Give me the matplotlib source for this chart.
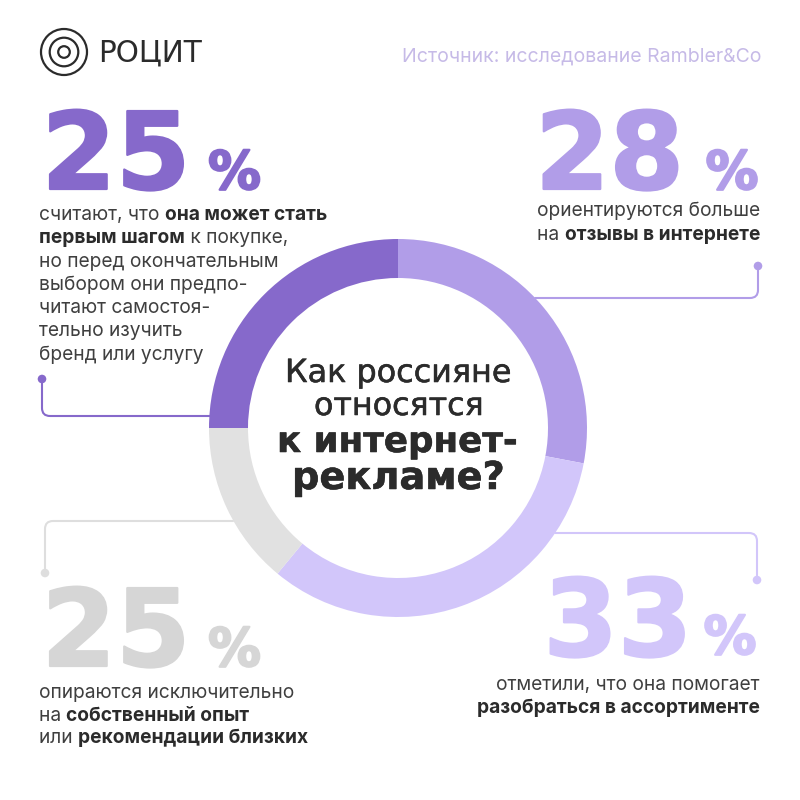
import matplotlib
matplotlib.use('Agg')
import matplotlib.pyplot as plt
import matplotlib.patheffects as pe
from matplotlib.path import Path
from matplotlib.patches import PathPatch, Circle

# --- data ---
slice_names = ['Отзывы', 'Ассортимент', 'Собственный опыт', 'Первый шаг']
slice_values = [28, 33, 14, 25]
slice_colors = ['#B19DE8', '#D2C6FA', '#E1E1E1', '#8669CB']

label_first = '25'
label_reviews = '28'
label_assort = '33'
label_own = '25'

DARK = '#8669CB'; MID = '#B19DE8'; LIGHT = '#D2C6FA'; GREY = '#D6D6D6'; LINEGREY = '#DEDEDE'
INK = '#2B2B2B'; BODY = '#3F3F3F'
FONT = 'Inter'

fig = plt.figure(figsize=(8, 8), dpi=100, facecolor='white')
ax = fig.add_axes([0, 0, 1, 1])
ax.pie(slice_values, colors=slice_colors, startangle=90, counterclock=False,
       center=(398, 800 - 428), radius=189, wedgeprops=dict(width=39, linewidth=0))
ax.set_xlim(0, 800); ax.set_ylim(0, 800); ax.set_aspect('equal'); ax.axis('off')
rend = fig.canvas.get_renderer()

def Y(py):
    return 800 - py

def width(t):
    return t.get_window_extent(rend).width

def runs(parts, x, base, ha='left', size=13.8):
    items = []
    for s, bold in parts:
        t = ax.text(0, Y(base), s, fontsize=size, family=FONT, va='baseline',
                    fontweight='bold' if bold else 'normal', color=INK if bold else BODY)
        items.append(t)
    total = sum(width(t) for t in items)
    cur = x if ha == 'left' else x - total
    for t in items:
        t.set_x(cur)
        cur += width(t)

def fit(s, x0, x1, base, weight='normal', color=INK, family=FONT, stroke=0):
    t = ax.text(x0, Y(base), s, fontsize=20, family=family, fontweight=weight, color=color, va='baseline')
    t.set_fontsize(20 * (x1 - x0) / width(t))
    if stroke:
        t.set_path_effects([pe.withStroke(linewidth=stroke, foreground=color)])
    return t

def connector(points, color, dot):
    verts, codes = [], []
    for v, c in points:
        verts.append((v[0], Y(v[1]))); codes.append(c)
    ax.add_patch(PathPatch(Path(verts, codes), fill=False, edgecolor=color, lw=1.5, capstyle='round'))
    ax.add_patch(Circle((dot[0], Y(dot[1])), 4.3, color=color, lw=0))

M, L, Q = Path.MOVETO, Path.LINETO, Path.CURVE3
connector([((42, 379), M), ((42, 408), L), ((42, 416), Q), ((50, 416), Q), ((210, 416), L)], DARK, (42, 379))
connector([((758, 266), M), ((758, 290), L), ((758, 298), Q), ((750, 298), Q), ((535, 298), L)], MID, (758, 266))
connector([((555, 533), M), ((749, 533), L), ((757, 533), Q), ((757, 541), Q), ((757, 580), L)], LIGHT, (757, 580))
connector([((233, 521), M), ((53, 521), L), ((45, 521), Q), ((45, 529), Q), ((45, 573), L)], LINEGREY, (45, 573))

# logo and source
for r in (23, 14.3, 5.8):
    ax.add_patch(Circle((64, Y(52)), r, fill=False, edgecolor=INK, lw=1.6))
fit('РОЦИТ', 98, 202, 62, color=INK, family='DejaVu Sans')
fit('Источник: исследование Rambler&Co', 402, 761, 62, color='#C6BAE7')

# big numbers
BIG = 'DejaVu Sans'
def big(s, cx, base, pcx, pbase, color):
    effect = [pe.withStroke(linewidth=1.6, foreground=color)]
    ax.text(cx, Y(base), s, fontsize=77, family=BIG, fontweight='bold', color=color,
            ha='center', va='baseline', path_effects=effect)
    ax.text(pcx, Y(pbase), '%', fontsize=38, family=BIG, fontweight='bold', color=color,
            ha='center', va='baseline', path_effects=effect)

big(label_first, 116, 189, 234.5, 189, DARK)
big(label_reviews, 609.5, 189, 732, 189, MID)
big(label_own, 116, 666, 234.5, 666, GREY)
big(label_assort, 618, 656, 730, 654, LIGHT)

# body
base0 = 220; step = 23.3
first_lines = [
    [('считают, что ', False), ('она может стать', True)],
    [('первым шагом', True), (' к покупке,', False)],
    [('но перед окончательным', False)],
    [('выбором они предпо-', False)],
    [('читают самостоя-', False)],
    [('тельно изучить', False)],
    [('бренд или услугу', False)],
]
for i, line in enumerate(first_lines):
    runs(line, 39, base0 + i * step)

runs([('ориентируются больше', False)], 760, 216, 'right')
runs([('на ', False), ('отзывы в интернете', True)], 760, 240, 'right')
runs([('опираются исключительно', False)], 39, 698)
runs([('на ', False), ('собственный опыт', True)], 39, 721)
runs([('или ', False), ('рекомендации близких', True)], 39, 743)
runs([('отметили, что она помогает', False)], 760, 690, 'right')
runs([('разобраться в ассортименте', True)], 760, 713, 'right')

# centre title
fit('Как россияне', 285, 511, 382, 'normal', INK, 'DejaVu Sans', stroke=0.4)
fit('относятся', 314, 483, 415, 'normal', INK, 'DejaVu Sans', stroke=0.4)
fit('к интернет-', 277, 518, 452, 'bold', INK, 'DejaVu Sans', stroke=0.4)
fit('рекламе?', 292, 505, 489, 'bold', INK, 'DejaVu Sans', stroke=0.4)

fig.savefig('out.png', dpi=100, facecolor='white')
